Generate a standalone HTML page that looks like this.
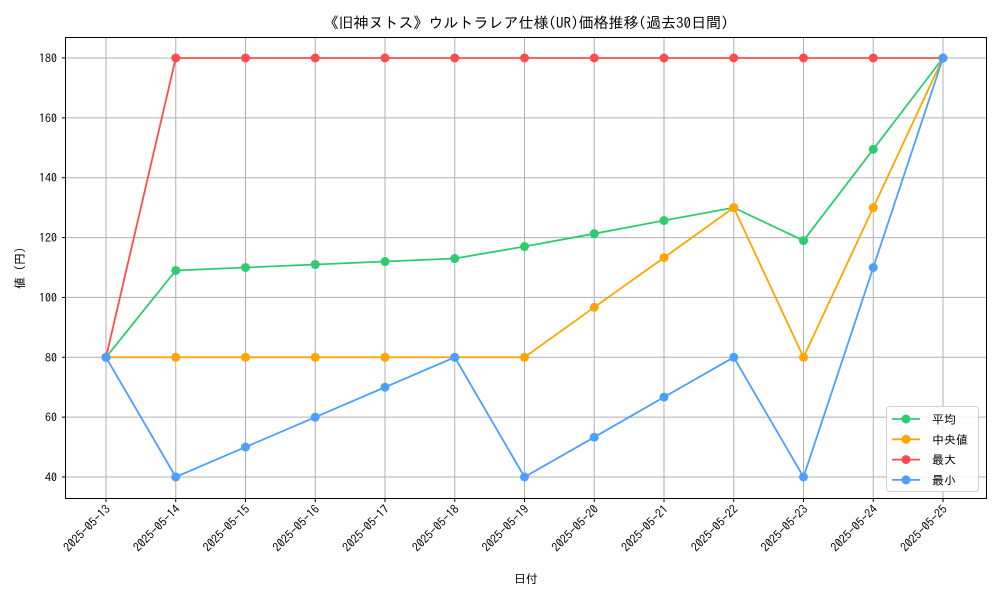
<!DOCTYPE html>
<html><head><meta charset="utf-8"><style>
body{margin:0;background:#fff;}
svg text{font-family:"IPAGothic","Noto Sans CJK JP",sans-serif;fill:#000;}
</style></head><body>
<svg id="chart" width="1000" height="600" xmlns="http://www.w3.org/2000/svg">
<rect x="0" y="0" width="1000" height="600" fill="#fff"/>
<text x="526" y="28" text-anchor="middle" font-size="15">《旧神ヌトス》ウルトラレア仕様(UR)価格推移(過去30日間)</text>
<g id="grid"></g><g id="axes"></g><g id="series"></g>
<rect x="65.5" y="37.5" width="921" height="461" fill="none" stroke="#000" stroke-width="1"/>
<text x="526" y="583" text-anchor="middle" font-size="12">日付</text>
<text transform="translate(24,268) rotate(-90)" text-anchor="middle" font-size="12">値 (円)</text>
<g id="legend"></g>
</svg>
<script>
const categories=["2025-05-13","2025-05-14","2025-05-15","2025-05-16","2025-05-17","2025-05-18","2025-05-19","2025-05-20","2025-05-21","2025-05-22","2025-05-23","2025-05-24","2025-05-25"];
const avgValues=[80,109,110,111,112,113,117,121.3,125.7,130,119,149.5,180];
const medianValues=[80,80,80,80,80,80,80,96.7,113.3,130,80,130,180];
const maxValues=[80,180,180,180,180,180,180,180,180,180,180,180,180];
const minValues=[80,40,50,60,70,80,40,53.3,66.7,80,40,110,180];
const yTicks=[40,60,80,100,120,140,160,180];
const seriesNames=["平均","中央値","最大","最小"];
const seriesColors=["#2ecc71","#ffa500","#ff4d4d","#4d9fff"];

const NS="http://www.w3.org/2000/svg";
function xs(i){return 106+i*(943-106)/(categories.length-1);}
function ys(v){return 477-(v-40)*(477-58)/140;}
function mk(tag,attrs,parent){const e=document.createElementNS(NS,tag);for(const k in attrs)e.setAttribute(k,attrs[k]);parent.appendChild(e);return e;}
const grid=document.getElementById('grid'),axes=document.getElementById('axes'),ser=document.getElementById('series'),leg=document.getElementById('legend');
categories.forEach((c,i)=>{
  const x=xs(i);
  const g=mk('line',{x1:x,x2:x,y1:37.5,y2:498.5,stroke:'#b0b0b0','stroke-width':1},grid);
  
  
  const t=mk('line',{x1:x,x2:x,y1:498.5,y2:502,stroke:'#000'},axes);
  
  
  const l=mk('text',{transform:`translate(${x+5},${510}) rotate(-45)`,'text-anchor':'end','font-size':12},axes);
  l.textContent=c;
  
  
});
yTicks.forEach(v=>{
  const y=ys(v);
  const g=mk('line',{x1:65.5,x2:986.5,y1:y,y2:y,stroke:'#b0b0b0','stroke-width':1},grid);
  
  
  const t=mk('line',{x1:62,x2:65.5,y1:y,y2:y,stroke:'#000'},axes);
  
  
  const l=mk('text',{x:57,y:y+4.5,'text-anchor':'end','font-size':12},axes);
  l.textContent=v;
  
  
});
[avgValues,medianValues,maxValues,minValues].forEach((vals,s)=>{
  const pts=vals.map((v,i)=>xs(i)+','+ys(v)).join(' ');
  const pl=mk('polyline',{points:pts,fill:'none',stroke:seriesColors[s],'stroke-width':1.8},ser);
  
  
  vals.forEach((v,i)=>{
    const c=mk('circle',{cx:xs(i),cy:ys(v),r:4.5,fill:seriesColors[s]},ser);
    
    
  });
});
const bg=mk('rect',{x:886.5,y:406.5,width:92,height:85,rx:3,fill:'#fff','fill-opacity':0.85,stroke:'#d0d0d0'},leg);


seriesNames.forEach((n,i)=>{
  const y=419+i*20.3;
  const ln=mk('line',{x1:892,x2:920,y1:y,y2:y,stroke:seriesColors[i],'stroke-width':1.8},leg);
  
  
  const c=mk('circle',{cx:906,cy:y,r:4.5,fill:seriesColors[i]},leg);
  
  
  const t=mk('text',{x:932,y:y+4.5,'font-size':12},leg);
  t.textContent=n;
  
  
});
</script>
</body></html>
